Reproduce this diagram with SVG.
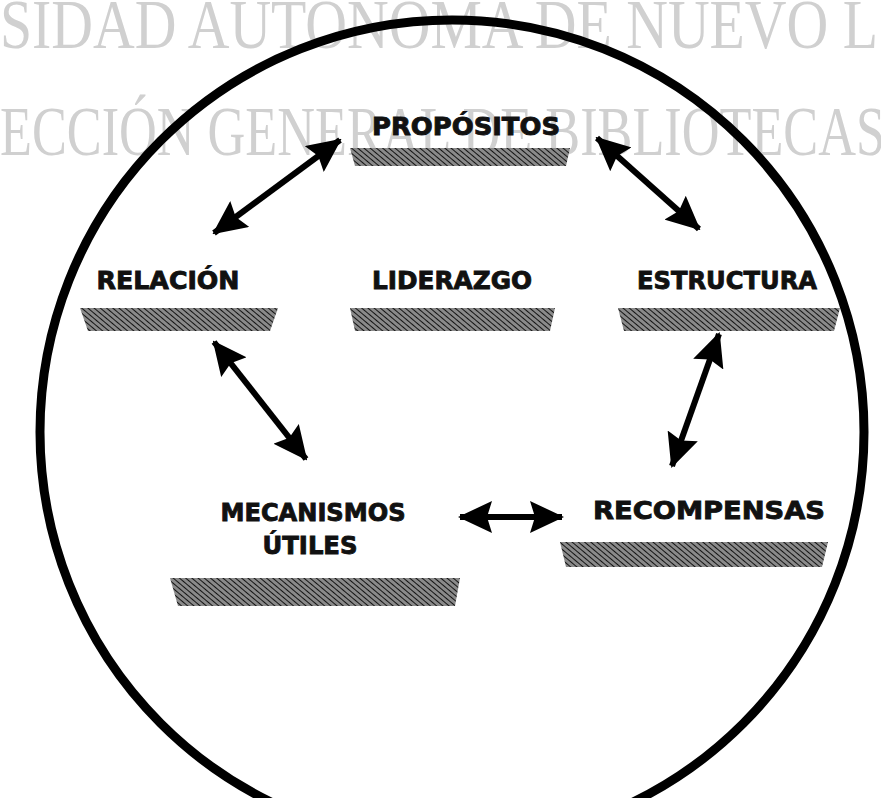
<svg xmlns="http://www.w3.org/2000/svg" width="881" height="798" viewBox="0 0 881 798">
  <defs>
    <pattern id="hatch" width="4" height="4" patternUnits="userSpaceOnUse" patternTransform="rotate(-50)">
      <rect width="4" height="4" fill="#8a8a8a"/>
      <line x1="0" y1="0" x2="0" y2="4" stroke="#141414" stroke-width="2"/>
    </pattern>
    <marker id="head" viewBox="0 0 34 32" refX="32" refY="16" markerWidth="34" markerHeight="32" markerUnits="userSpaceOnUse" orient="auto-start-reverse">
      <path d="M0,0 L34,16 L0,32 L5,16 Z" fill="#000"/>
    </marker>
  </defs>
  <style>
    .wm { font-family: "Liberation Serif", "DejaVu Serif", serif; font-size: 70px; fill: #d0d0d0; }
    .lbl { font-family: "DejaVu Sans", "Liberation Sans", sans-serif; font-weight: bold; font-size: 25px; fill: #111; stroke: #111; stroke-width: 0.9; text-anchor: middle; }
    .shadow { fill: url(#hatch); }
    .conn { stroke: #000; stroke-width: 6; fill: none; marker-start: url(#head); marker-end: url(#head); }
  </style>
  <rect width="881" height="798" fill="#fff"/>
  <g id="watermark">
    <text class="wm" x="0" y="48" textLength="878" lengthAdjust="spacingAndGlyphs">SIDAD AUTONOMA DE NUEVO L</text>
    <text class="wm" x="0" y="155" textLength="885" lengthAdjust="spacingAndGlyphs">ECCIÓN GENERAL DE BIBLIOTECAS</text>
  </g>
  <circle id="frame" cx="452" cy="432" r="412" fill="none" stroke="#000" stroke-width="9"/>
  <g id="connectors">
    <line class="conn" x1="340" y1="140" x2="214" y2="233"/>
    <line class="conn" x1="597" y1="138" x2="699" y2="229"/>
    <line class="conn" x1="214" y1="342" x2="306" y2="459"/>
    <line class="conn" x1="719" y1="334" x2="672" y2="466"/>
    <line class="conn" x1="460" y1="517" x2="562" y2="517"/>
  </g>
  <g id="node-propositos">
    <text class="lbl" x="466" y="135" textLength="188" lengthAdjust="spacingAndGlyphs">PROPÓSITOS</text>
    <polygon class="shadow" points="350,148 570,148 566,166 355,166"/>
  </g>
  <g id="node-relacion">
    <text class="lbl" x="168" y="289" textLength="143" lengthAdjust="spacingAndGlyphs">RELACIÓN</text>
    <polygon class="shadow" points="80,308 278,308 270,331 88,331"/>
  </g>
  <g id="node-liderazgo">
    <text class="lbl" x="452" y="289" textLength="160" lengthAdjust="spacingAndGlyphs">LIDERAZGO</text>
    <polygon class="shadow" points="350,308 555,308 550,331 355,331"/>
  </g>
  <g id="node-estructura">
    <text class="lbl" x="727" y="289" textLength="180" lengthAdjust="spacingAndGlyphs">ESTRUCTURA</text>
    <polygon class="shadow" points="618,308 840,308 834,331 624,331"/>
  </g>
  <g id="node-mecanismos">
    <text class="lbl" x="313" y="521" textLength="185" lengthAdjust="spacingAndGlyphs">MECANISMOS</text>
    <text class="lbl" x="310" y="554" textLength="95" lengthAdjust="spacingAndGlyphs">ÚTILES</text>
    <polygon class="shadow" points="170,578 460,578 455,606 178,606"/>
  </g>
  <g id="node-recompensas">
    <text class="lbl" x="709" y="519" textLength="232" lengthAdjust="spacingAndGlyphs">RECOMPENSAS</text>
    <polygon class="shadow" points="560,542 828,542 822,567 566,567"/>
  </g>
</svg>
